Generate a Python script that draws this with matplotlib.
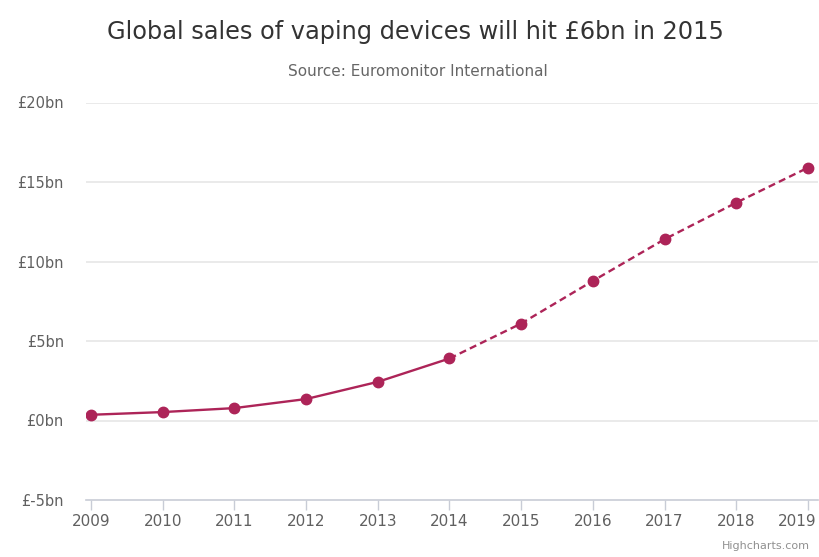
import matplotlib
matplotlib.use("Agg")
import matplotlib.pyplot as plt
from matplotlib.transforms import ScaledTranslation

years = [2009, 2010, 2011, 2012, 2013, 2014, 2015, 2016, 2017, 2018, 2019]
sales_bn = [0.36, 0.53, 0.78, 1.35, 2.43, 3.9, 6.1, 8.78, 11.4, 13.7, 15.9]
actual_until = 2014
y_ticks = [-5, 0, 5, 10, 15, 20]
y_tick_labels = ["£-5bn", "£0bn", "£5bn", "£10bn", "£15bn", "£20bn"]
title = "Global sales of vaping devices will hit £6bn in 2015"
subtitle = "Source: Euromonitor International"
credit = "Highcharts.com"

color = "#ad2458"
W, H = 819, 557
fig = plt.figure(figsize=(W / 100, H / 100), dpi=100)
fig.patch.set_facecolor("white")

left, right, bottom, top = 86, 818, 500, 102.5
ax = fig.add_axes([left / W, 1 - bottom / H, (right - left) / W, (bottom - top) / H])

idx = years.index(actual_until)
ax.plot(years[:idx + 1], sales_bn[:idx + 1], color=color, lw=1.7, solid_capstyle="round", zorder=3)
ax.plot(years[idx:], sales_bn[idx:], color=color, lw=1.7, linestyle=(0, (3, 1.8)), zorder=3)
ax.plot(years, sales_bn, linestyle="none", marker="o", markersize=7.5, color=color, zorder=4)

ax.set_xlim(2008.93, 2019.14)
ax.set_ylim(-5, 20)
ax.set_yticks(y_ticks)
ax.set_yticklabels(y_tick_labels)
ax.set_xticks(years)
ax.set_xticklabels([str(y) for y in years])

for v in y_ticks:
    if v != -5:
        ax.axhline(v, color="#e6e6e6", lw=1.2, zorder=1)

for s in ["top", "right", "left"]:
    ax.spines[s].set_visible(False)
ax.spines["bottom"].set_color("#c8ccd6")
ax.spines["bottom"].set_linewidth(1.2)

ax.tick_params(axis="y", length=0, pad=16, labelsize=10.5, labelcolor="#606060")
ax.tick_params(axis="x", length=7, width=1, color="#c8ccd6", pad=3, labelsize=11, labelcolor="#606060")
for lab in ax.get_yticklabels():
    lab.set_horizontalalignment("right")

# keep the last category label inside the figure (shifted left like the original)
last = ax.get_xticklabels()[-1]
last.set_transform(last.get_transform() + ScaledTranslation(-0.11, 0, fig.dpi_scale_trans))

fig.text(415 / W, 1 - 32 / H, title, ha="center", va="center", fontsize=17.3, color="#333333")
fig.text(418 / W, 1 - 72 / H, subtitle, ha="center", va="center", fontsize=11, color="#666666")
fig.text(810 / W, 1 - 546 / H, credit, ha="right", va="center", fontsize=8, color="#909090")

fig.savefig("out.png", dpi=100, facecolor="white")
